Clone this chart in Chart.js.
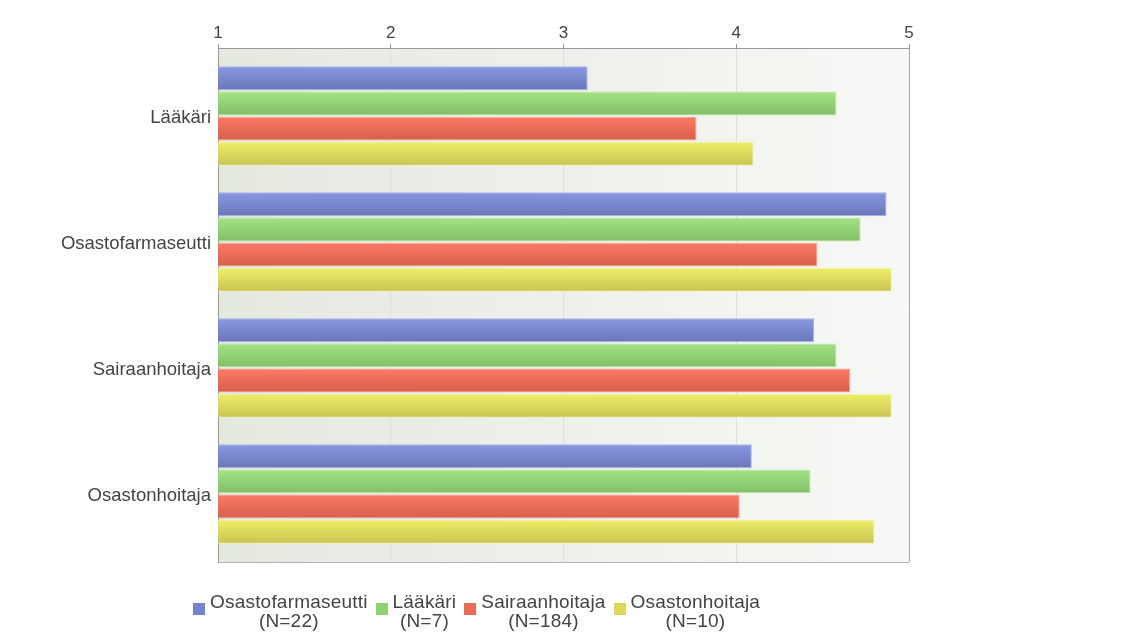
<!DOCTYPE html>
<html>
<head>
<meta charset="utf-8">
<script src="https://cdn.jsdelivr.net/npm/chart.js@4.4.1/dist/chart.umd.min.js"></script>
<style>
body { margin: 0; background: #fff; }
#wrap { position: relative; width: 1131px; height: 637px; }
#legend { position: absolute; top: 592px; left: 193px; display: flex;
  font-family: "Liberation Sans", Arial, sans-serif; font-size: 19px; line-height: 19px; color: #444;
  letter-spacing: 0.2px; }
.item { display: flex; align-items: flex-start; margin-right: 8px; }
.box { width: 12px; height: 12px; margin-top: 11px; margin-right: 5px; }
.txt { text-align: center; }
</style>
</head>
<body>
<div id="wrap">
  <canvas id="mycanvas" width="1131" height="637"></canvas>
  <div id="legend"></div>
</div>
<script>
var categories = ['Lääkäri', 'Osastofarmaseutti', 'Sairaanhoitaja', 'Osastonhoitaja'];
var seriesNames = ['Osastofarmaseutti', 'Lääkäri', 'Sairaanhoitaja', 'Osastonhoitaja'];
var seriesN = ['(N=22)', '(N=7)', '(N=184)', '(N=10)'];

var osastofarmaseutti = [3.14, 4.87, 4.45, 4.09];
var laakari = [4.58, 4.72, 4.58, 4.43];
var sairaanhoitaja = [3.77, 4.47, 4.66, 4.02];
var osastonhoitaja = [4.10, 4.90, 4.90, 4.80];

var xTicks = [1, 2, 3, 4, 5];

var topColors = ['#8898e2', '#a2e384', '#fc7a65', '#eeee68'];
var bottomColors = ['#6a77b9', '#82be67', '#d65f4b', '#c9c352'];
var edgeColors = ['#a6b1ec', '#bbe9a4', '#f8a597', '#f2f1a6'];
var boxColors = ['#7584cc', '#8fd171', '#ea6b56', '#dcd85c'];

var values = [osastofarmaseutti, laakari, sairaanhoitaja, osastonhoitaja];

var datasets = [];
for (var i in values) {
  datasets.push({
    label: seriesNames[i],
    data: values[i].map(function(v, j) { return { x: v, y: j }; }),
    backgroundColor: (function(c) { return function() { return c; }; })(bottomColors[i]),
    borderColor: edgeColors[i],
    borderWidth: 1,
    borderSkipped: false,
    categoryPercentage: 0.8,
    barPercentage: 0.95
  });
}

// plot background, bar gradients, bottom frame line
var paintPlugin = {
  id: 'paint',
  beforeDraw: function(chart) {
    var a = chart.chartArea, ctx = chart.ctx;
    var g = ctx.createLinearGradient(a.left, 0, a.right, 0);
    g.addColorStop(0, '#e4e9e0');
    g.addColorStop(1, '#f7f8f5');
    ctx.save();
    ctx.fillStyle = g;
    ctx.fillRect(a.left, a.top, a.right - a.left, a.bottom - a.top);
    ctx.restore();
  },
  beforeDatasetsDraw: function(chart) {
    var ctx = chart.ctx;
    chart.data.datasets.forEach(function(ds, i) {
      chart.getDatasetMeta(i).data.forEach(function(el) {
        var t = el.y - el.height / 2;
        var g = ctx.createLinearGradient(0, t, 0, t + el.height);
        g.addColorStop(0, topColors[i]);
        g.addColorStop(1, bottomColors[i]);
        el.options.backgroundColor = g;
      });
    });
  },
  afterDatasetsDraw: function(chart) {
    var a = chart.chartArea, ctx = chart.ctx;
    ctx.save();
    ctx.strokeStyle = '#b4b4b4';
    ctx.lineWidth = 1;
    ctx.beginPath();
    ctx.moveTo(a.left, a.bottom + 0.5);
    ctx.lineTo(a.right, a.bottom + 0.5);
    ctx.stroke();
    ctx.restore();
  }
};

var ctx = document.getElementById('mycanvas');

var barGraph = new Chart(ctx, {
  type: 'bar',
  data: { datasets: datasets },
  plugins: [paintPlugin],
  options: {
    indexAxis: 'y',
    responsive: false,
    animation: false,
    layout: { padding: { left: 30, top: 16, right: 222, bottom: 75 } },
    plugins: { legend: { display: false }, tooltip: { enabled: false } },
    scales: {
      x: {
        type: 'linear',
        position: 'top',
        min: 1,
        max: 5,
        afterBuildTicks: function(scale) {
          scale.ticks = xTicks.map(function(v) { return { value: v }; });
        },
        afterFit: function(scale) { scale.height = 32; },
        ticks: {
          color: '#444',
          padding: 0,
          font: { family: '"Liberation Sans", Arial, sans-serif', size: 17 }
        },
        grid: {
          color: function(c) {
            if (c.tick && c.tick.value === 5) return '#a9a9a9';
            if (c.tick && c.tick.value === 1) return '#999';
            return '#dde0da';
          },
          tickColor: '#999',
          tickLength: 4
        },
        border: { display: true, color: '#999' }
      },
      y: {
        type: 'linear',
        reverse: true,
        offset: false,
        min: -0.54,
        max: 3.54,
        afterBuildTicks: function(scale) {
          scale.ticks = categories.map(function(c, i) { return { value: i }; });
        },
        afterFit: function(scale) { scale.width = 188; },
        ticks: {
          color: '#444',
          padding: 7,
          labelOffset: 2,
          font: { family: '"Liberation Sans", Arial, sans-serif', size: 18.5 },
          callback: function(v) { return categories[v]; }
        },
        grid: { display: false, drawTicks: false },
        border: { display: true, color: '#999' }
      }
    }
  }
});

// legend with two-line labels
var legend = document.getElementById('legend');
for (var k in seriesNames) {
  var item = document.createElement('div');
  item.className = 'item';
  var box = document.createElement('div');
  box.className = 'box';
  box.style.background = boxColors[k];
  var txt = document.createElement('div');
  txt.className = 'txt';
  txt.innerHTML = seriesNames[k] + '<br>' + seriesN[k];
  item.appendChild(box);
  item.appendChild(txt);
  legend.appendChild(item);
}
</script>
</body>
</html>
